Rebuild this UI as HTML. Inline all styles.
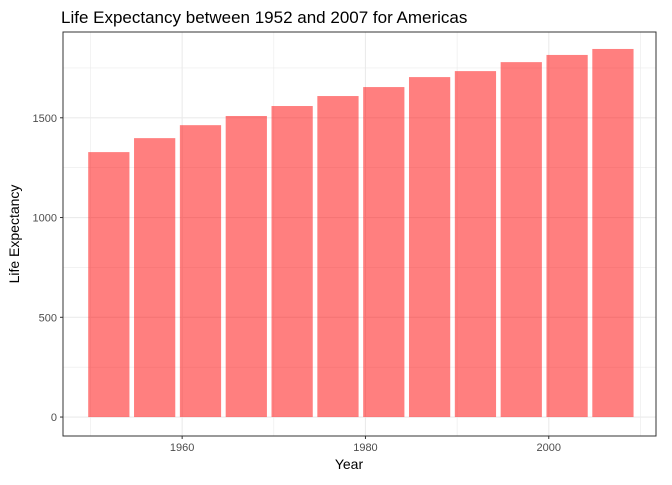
<!DOCTYPE html>
<html><head><meta charset="utf-8"><style>
body{margin:0;background:#fff;font-family:"Liberation Sans",sans-serif}
</style></head><body>
<svg id="c" width="672" height="480" xmlns="http://www.w3.org/2000/svg">
<text x="61" y="23" font-size="17" fill="#000">Life Expectancy between 1952 and 2007 for Americas</text>
<text x="349" y="469" font-size="14" text-anchor="middle">Year</text>
<text transform="translate(19,234) rotate(-90)" font-size="14" text-anchor="middle">Life Expectancy</text>
<g id="grid"></g><g id="bars"></g><g id="axes"></g>
<rect x="63" y="32" width="593" height="404" fill="none" stroke="#333" stroke-width="1"/>
</svg>
<script>
const years=[1952,1957,1962,1967,1972,1977,1982,1987,1992,1997,2002,2007];
const values=[1328,1398,1463,1509,1559,1609,1654,1704,1734,1779,1815,1845];
const xTicks=[1960,1980,2000];
const yTicks=[0,500,1000,1500];
const NS="http://www.w3.org/2000/svg";
const L=63,R=656,T=32,B=436;
const xMin=1947.0,xMax=2011.7,yMin=-95,yMax=1930;
const x=v=>L+(v-xMin)/(xMax-xMin)*(R-L);
const y=v=>B-(v-yMin)/(yMax-yMin)*(B-T);
function mk(t,a,p){const e=document.createElementNS(NS,t);for(const k in a)e.setAttribute(k,a[k]);p.appendChild(e);return e;}
const g=document.getElementById('grid'),bg=document.getElementById('bars'),ag=document.getElementById('axes');
yTicks.forEach((v,i)=>{if(i<yTicks.length-1){const l=mk('line',{x1:L,x2:R,y1:y(v+250),y2:y(v+250),stroke:'#ebebeb','stroke-width':0.6},g);}
const l=mk('line',{x1:L,x2:R,y1:y(v),y2:y(v),stroke:'#ebebeb','stroke-width':1.1},g);

const t=mk('text',{x:L-6,y:y(v)+4,'font-size':11,fill:'#4d4d4d','text-anchor':'end'},ag);t.textContent=v;

mk('line',{x1:L-3,x2:L,y1:y(v),y2:y(v),stroke:'#333'},ag);});
yTicks.length&&mk('line',{x1:L,x2:R,y1:y(1750),y2:y(1750),stroke:'#ebebeb','stroke-width':0.6},g);
[1950,1970,1990,2010].forEach(v=>{const l=mk('line',{x1:x(v),x2:x(v),y1:T,y2:B,stroke:'#ebebeb','stroke-width':0.6},g);});
xTicks.forEach(v=>{const l=mk('line',{x1:x(v),x2:x(v),y1:T,y2:B,stroke:'#ebebeb','stroke-width':1.1},g);

const t=mk('text',{x:x(v),y:B+15,'font-size':11,fill:'#4d4d4d','text-anchor':'middle'},ag);t.textContent=v;

mk('line',{x1:x(v),x2:x(v),y1:B,y2:B+3,stroke:'#333'},ag);});
years.forEach((yr,i)=>{const w=4.5;const r=mk('rect',{x:x(yr-w/2),y:y(values[i]),width:x(yr+w/2)-x(yr-w/2),height:y(0)-y(values[i]),fill:'#ff0000','fill-opacity':0.5},bg);
});
</script>
</body></html>
